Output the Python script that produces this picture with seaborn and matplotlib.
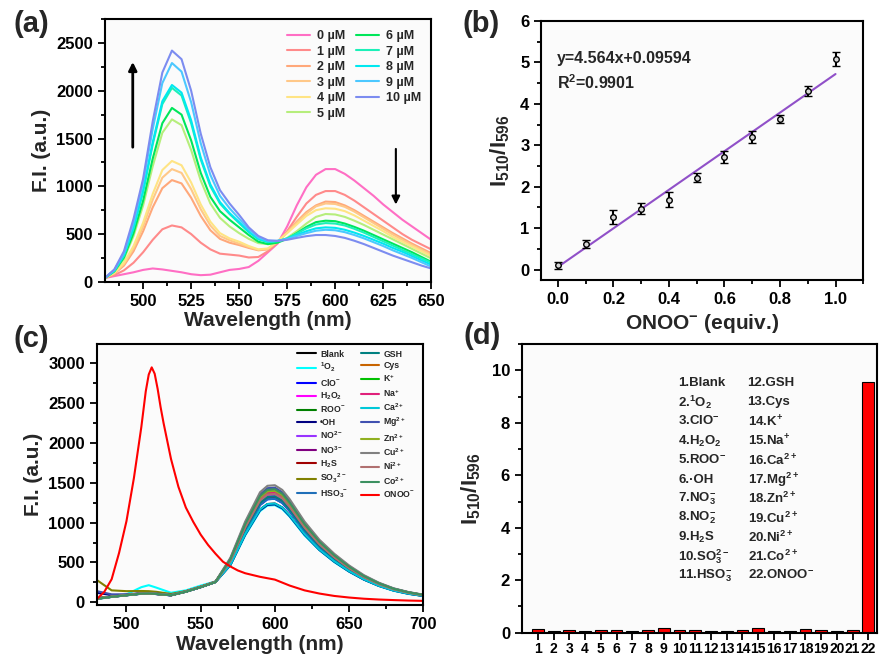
import numpy as np
import pandas as pd
import matplotlib
matplotlib.use("Agg")
import matplotlib.pyplot as plt
import seaborn as sns
from matplotlib.ticker import MultipleLocator

# ---------------- data ----------------
# (a) titration spectra
wl_a = [480, 485, 490, 495, 500, 505, 510, 515, 520, 525, 530, 535, 540, 545, 550, 555, 560, 565,
        570, 575, 580, 585, 590, 595, 600, 605, 610, 615, 620, 625, 630, 635, 640, 645, 650]
fi_0uM = [40, 60, 80, 100, 125, 140, 130, 115, 100, 80, 70, 75, 100, 125, 135, 155, 220, 310,
          400, 580, 800, 990, 1120, 1180, 1180, 1130, 1060, 980, 900, 810, 730, 650, 580, 510, 440]
fi_1uM = [40, 70, 120, 200, 310, 440, 550, 590, 570, 500, 410, 340, 295, 285, 275, 255, 260, 320,
          410, 530, 680, 820, 910, 950, 950, 910, 850, 780, 710, 640, 570, 500, 440, 390, 340]
fi_2uM = [40, 85, 170, 320, 530, 780, 980, 1065, 1030, 880, 690, 540, 450, 410, 385, 355, 330, 340,
          420, 520, 630, 730, 800, 840, 835, 800, 750, 690, 630, 570, 510, 455, 400, 350, 300]
fi_3uM = [40, 90, 185, 350, 580, 860, 1090, 1180, 1140, 970, 760, 590, 480, 435, 400, 365, 335, 345,
          420, 515, 620, 715, 790, 820, 815, 785, 735, 675, 615, 555, 495, 440, 385, 335, 285]
fi_4uM = [40, 95, 200, 375, 620, 920, 1170, 1265, 1220, 1040, 810, 630, 510, 455, 420, 375, 340, 350,
          425, 510, 600, 690, 750, 770, 765, 740, 695, 640, 585, 530, 470, 420, 370, 320, 270]
fi_5uM = [40, 105, 240, 480, 800, 1210, 1560, 1700, 1640, 1380, 1060, 820, 670, 580, 510, 450, 405, 395,
          415, 460, 530, 610, 680, 710, 705, 680, 640, 595, 545, 495, 445, 395, 345, 295, 245]
fi_6uM = [40, 110, 255, 510, 850, 1290, 1660, 1820, 1750, 1480, 1140, 890, 740, 650, 570, 490, 420, 395,
          410, 450, 510, 575, 625, 640, 635, 610, 575, 535, 490, 445, 400, 355, 310, 260, 210]
fi_7uM = [40, 115, 275, 560, 940, 1440, 1860, 2030, 1950, 1660, 1280, 1000, 820, 710, 615, 520, 445, 415,
          425, 455, 505, 560, 600, 615, 610, 590, 555, 515, 470, 425, 380, 335, 290, 245, 200]
fi_8uM = [40, 118, 280, 570, 960, 1460, 1890, 2060, 1980, 1690, 1300, 1020, 835, 720, 625, 525, 450, 420,
          428, 450, 490, 530, 560, 570, 565, 545, 515, 480, 440, 400, 355, 315, 270, 225, 180]
fi_9uM = [40, 125, 300, 620, 1040, 1600, 2080, 2290, 2200, 1880, 1450, 1120, 900, 770, 660, 550, 465, 428,
          430, 448, 480, 510, 535, 545, 540, 520, 490, 455, 415, 375, 330, 290, 250, 205, 160]
fi_10uM = [40, 130, 320, 660, 1080, 1680, 2190, 2420, 2330, 2000, 1550, 1200, 960, 820, 700, 570, 480, 435,
           428, 440, 460, 478, 490, 490, 480, 460, 430, 395, 355, 315, 275, 240, 205, 170, 140]
conc_labels = ['0 µM', '1 µM', '2 µM', '3 µM', '4 µM', '5 µM',
               '6 µM', '7 µM', '8 µM', '9 µM', '10 µM']
conc_colors = ['#ff6ec4', '#ff8a8a', '#ffa87a', '#ffc888', '#ffe484', '#b6ee7c',
               '#00e65a', '#1cf0b8', '#00e8f0', '#4cc8ff', '#7c8cf0']

# (b) calibration
equiv = [0.0, 0.1, 0.2, 0.3, 0.4, 0.5, 0.6, 0.7, 0.8, 0.9, 1.0]
ratio_b = [0.10, 0.62, 1.27, 1.47, 1.68, 2.22, 2.72, 3.20, 3.63, 4.31, 5.08]
err_b = [0.08, 0.10, 0.16, 0.13, 0.18, 0.10, 0.15, 0.15, 0.10, 0.11, 0.17]

# (c) selectivity spectra
wl_onoo = [480, 485, 490, 495, 500, 505, 510, 513, 515, 517, 519, 521, 523, 525, 530, 535, 540, 545,
           550, 555, 560, 565, 570, 575, 580, 590, 600, 610, 620, 630, 640, 650, 660, 670, 680,
           690, 700]
fi_onoo = [40, 130, 290, 620, 1020, 1560, 2200, 2650, 2860, 2950, 2870, 2680, 2450, 2250, 1800, 1450,
           1190, 1010, 850, 720, 610, 510, 450, 400, 365, 320, 285, 210, 150, 110, 80, 60, 45, 35,
           28, 22, 18]
wl_c = [480, 490, 500, 510, 515, 520, 530, 540, 550, 560, 570, 580, 590, 595, 600, 605, 610,
        620, 630, 640, 650, 660, 670, 680, 690, 700]
fi_blank = [50, 72, 92, 108, 112, 108, 90, 132, 192, 258, 471, 856, 1166, 1234, 1240, 1190, 1091,
            856, 663, 515, 391, 288, 208, 149, 109, 81]
fi_1o2 = [40, 68, 100, 190, 215, 185, 120, 150, 210, 262, 465, 840, 1145, 1215, 1220, 1170, 1075,
          840, 655, 505, 385, 285, 205, 145, 105, 80]
fi_clo = [48, 70, 90, 110, 112, 105, 88, 135, 190, 255, 494, 897, 1222, 1294, 1300, 1248, 1144,
          897, 696, 540, 410, 302, 218, 156, 114, 85]
fi_h2o2 = [45, 68, 88, 108, 110, 104, 88, 138, 195, 258, 524, 952, 1297, 1373, 1380, 1325, 1214,
           952, 738, 573, 435, 320, 232, 166, 121, 90]
fi_roo = [46, 70, 90, 110, 113, 106, 90, 135, 192, 256, 540, 980, 1335, 1413, 1420, 1363, 1250,
          980, 760, 589, 447, 329, 239, 170, 125, 92]
fi_oh = [120, 90, 95, 112, 115, 108, 92, 134, 190, 255, 467, 849, 1156, 1224, 1230, 1181, 1082,
         849, 658, 510, 387, 285, 207, 148, 108, 80]
fi_no2 = [47, 70, 90, 110, 112, 105, 89, 136, 192, 257, 513, 932, 1269, 1343, 1350, 1296, 1188,
          932, 722, 560, 425, 313, 227, 162, 119, 88]
fi_no3 = [46, 69, 89, 109, 111, 104, 88, 134, 190, 255, 502, 911, 1241, 1313, 1320, 1267, 1162,
          911, 706, 548, 416, 306, 222, 158, 116, 86]
fi_h2s = [48, 71, 92, 112, 114, 107, 91, 137, 194, 258, 532, 966, 1316, 1393, 1400, 1344, 1232,
          966, 749, 581, 441, 325, 235, 168, 123, 91]
fi_so3 = [280, 150, 140, 142, 140, 132, 105, 140, 196, 258, 528, 959, 1307, 1383, 1390, 1334, 1223,
          959, 744, 577, 438, 322, 234, 167, 122, 90]
fi_hso3 = [50, 72, 92, 110, 113, 106, 90, 135, 191, 256, 494, 897, 1222, 1294, 1300, 1248, 1144,
           897, 696, 540, 410, 302, 218, 156, 114, 85]
fi_gsh = [45, 68, 88, 107, 110, 104, 88, 133, 190, 254, 505, 918, 1250, 1323, 1330, 1277, 1170,
          918, 712, 552, 419, 309, 223, 160, 117, 86]
fi_cys = [47, 70, 90, 110, 112, 106, 90, 136, 193, 257, 521, 945, 1288, 1363, 1370, 1315, 1206,
          945, 733, 569, 432, 318, 230, 164, 121, 89]
fi_k = [46, 69, 90, 110, 113, 106, 90, 135, 192, 257, 536, 973, 1325, 1403, 1410, 1354, 1241,
        973, 754, 585, 444, 327, 237, 169, 124, 92]
fi_na = [47, 70, 91, 111, 113, 106, 90, 136, 193, 257, 524, 952, 1297, 1373, 1380, 1325, 1214,
         952, 738, 573, 435, 320, 232, 166, 121, 90]
fi_ca = [44, 68, 88, 108, 111, 104, 88, 133, 190, 254, 471, 856, 1166, 1234, 1240, 1190, 1091,
         856, 663, 515, 391, 288, 208, 149, 109, 81]
fi_mg = [140, 100, 100, 115, 117, 110, 92, 136, 192, 257, 547, 994, 1354, 1433, 1440, 1382, 1267,
         994, 770, 598, 454, 334, 242, 173, 127, 94]
fi_zn = [48, 71, 91, 111, 113, 106, 90, 136, 193, 257, 532, 966, 1316, 1393, 1400, 1344, 1232,
         966, 749, 581, 441, 325, 235, 168, 123, 91]
fi_cu = [45, 70, 92, 112, 115, 108, 92, 138, 195, 262, 559, 1014, 1382, 1463, 1470, 1411, 1294,
         1014, 786, 610, 463, 341, 247, 176, 129, 96]
fi_ni = [46, 69, 90, 110, 112, 105, 89, 135, 192, 256, 517, 938, 1278, 1353, 1360, 1306, 1197,
         938, 728, 564, 428, 316, 228, 163, 120, 88]
fi_co = [45, 69, 89, 109, 112, 105, 89, 134, 191, 255, 540, 980, 1335, 1413, 1420, 1363, 1250,
         980, 760, 589, 447, 329, 239, 170, 125, 92]
species_c = ['Blank', '${}^{1}$O$_{2}$', 'ClO$^{-}$', 'H$_{2}$O$_{2}$', 'ROO$^{-}$', '•OH',
             'NO$^{2-}$', 'NO$^{3-}$', 'H$_{2}$S', 'SO$_{3}$$^{2-}$', 'HSO$_{3}$$^{-}$',
             'GSH', 'Cys', 'K$^{+}$', 'Na$^{+}$', 'Ca$^{2+}$', 'Mg$^{2+}$', 'Zn$^{2+}$',
             'Cu$^{2+}$', 'Ni$^{2+}$', 'Co$^{2+}$', 'ONOO$^{-}$']
colors_c = ['#000000', '#00ffff', '#0000ff', '#ff00ff', '#008000', '#000080', '#9933ff',
            '#800080', '#a00000', '#808000', '#1f6fb8', '#008080', '#c86400', '#00c000',
            '#e0207a', '#00c8d8', '#4050b0', '#90b020', '#808080', '#b07070', '#3c9060', '#ff0000']

# (d) ratio bars
bar_idx = [str(i) for i in range(1, 23)]
ratio_d = [0.13, 0.08, 0.09, 0.08, 0.09, 0.10, 0.08, 0.10, 0.19, 0.09, 0.09,
           0.06, 0.08, 0.09, 0.18, 0.06, 0.06, 0.13, 0.09, 0.05, 0.09, 9.57]
names_left = ['1.Blank', '2.${}^{1}$O$_{2}$', '3.ClO$^{-}$', '4.H$_{2}$O$_{2}$', '5.ROO$^{-}$',
              '6.·OH', '7.NO$_{3}^{-}$', '8.NO$_{2}^{-}$', '9.H$_{2}$S', '10.SO$_{3}^{2-}$',
              '11.HSO$_{3}^{-}$']
names_right = ['12.GSH', '13.Cys', '14.K$^{+}$', '15.Na$^{+}$', '16.Ca$^{2+}$', '17.Mg$^{2+}$',
               '18.Zn$^{2+}$', '19.Cu$^{2+}$', '20.Ni$^{2+}$', '21.Co$^{2+}$', '22.ONOO$^{-}$']

# ---------------- style ----------------
sns.set_theme(style="ticks")
plt.rcParams['font.family'] = ['Liberation Sans', 'DejaVu Sans']
plt.rcParams['font.weight'] = 'bold'
plt.rcParams['axes.labelweight'] = 'bold'
plt.rcParams['mathtext.fontset'] = 'custom'
plt.rcParams['mathtext.rm'] = 'Liberation Sans:bold'
plt.rcParams['mathtext.bf'] = 'Liberation Sans:bold'
plt.rcParams['mathtext.default'] = 'bf'
plt.rcParams['lines.solid_joinstyle'] = 'round'


def style_ax(ax, size=12):
    ax.set_facecolor('#fbfbfb')
    for s in ax.spines.values():
        s.set_visible(True)
        s.set_linewidth(1.5)
        s.set_color('black')
    ax.tick_params(which='both', direction='out', width=1.3, colors='black', labelsize=size)
    ax.tick_params(which='major', length=5)
    ax.tick_params(which='minor', length=3)


fig = plt.figure(figsize=(8.8, 6.57), dpi=100)
ax_a = fig.add_axes([0.119, 0.571, 0.371, 0.400])
ax_b = fig.add_axes([0.615, 0.574, 0.366, 0.394])
ax_c = fig.add_axes([0.110, 0.079, 0.371, 0.397])
ax_d = fig.add_axes([0.593, 0.037, 0.404, 0.439])

# (a)
curves_a = [fi_0uM, fi_1uM, fi_2uM, fi_3uM, fi_4uM, fi_5uM, fi_6uM, fi_7uM, fi_8uM, fi_9uM, fi_10uM]
df_a = pd.DataFrame({'wl': wl_a * len(curves_a),
                     'fi': sum(curves_a, []),
                     'conc': np.repeat(conc_labels, len(wl_a))})
sns.lineplot(data=df_a, x='wl', y='fi', hue='conc', hue_order=conc_labels,
             palette=conc_colors, lw=1.5, errorbar=None, legend=False, ax=ax_a)
ax_a.legend(ax_a.lines, conc_labels, ncol=2, frameon=False, loc='upper right',
            bbox_to_anchor=(1.005, 1.0), fontsize=9, handlelength=1.85,
            labelspacing=0.28, columnspacing=0.8, handletextpad=0.6)
ax_a.annotate('', xy=(494.6, 2330), xytext=(494.6, 1380),
              arrowprops=dict(arrowstyle='-|>', color='black', lw=2, mutation_scale=12))
ax_a.annotate('', xy=(631.6, 780), xytext=(631.6, 1420),
              arrowprops=dict(arrowstyle='-|>', color='black', lw=1.5, mutation_scale=12))
ax_a.set_xlim(480, 650)
ax_a.set_ylim(0, 2750)
ax_a.xaxis.set_major_locator(MultipleLocator(25))
ax_a.xaxis.set_minor_locator(MultipleLocator(12.5))
ax_a.yaxis.set_major_locator(MultipleLocator(500))
ax_a.yaxis.set_minor_locator(MultipleLocator(250))
ax_a.set_xlabel('Wavelength (nm)', fontsize=15, labelpad=2)
ax_a.set_ylabel('F.I. (a.u.)', fontsize=15, labelpad=4)
style_ax(ax_a)

# (b)
sns.regplot(x=equiv, y=ratio_b, ci=None, scatter=False, ax=ax_b,
            line_kws=dict(color='#9050c8', lw=1.5))
ax_b.errorbar(equiv, ratio_b, yerr=err_b, fmt='o', ms=4, mfc='#d8d8d8', mec='black', mew=1,
              ecolor='black', elinewidth=1.5, capsize=3, capthick=1.5, zorder=3)
ax_b.text(0.05, 0.885, 'y=4.564x+0.09594\nR$^{2}$=0.9901', transform=ax_b.transAxes,
          fontsize=11.5, va='top', linespacing=1.45)
ax_b.set_xlim(-0.06, 1.1)
ax_b.set_ylim(-0.25, 6)
ax_b.xaxis.set_major_locator(MultipleLocator(0.2))
ax_b.xaxis.set_minor_locator(MultipleLocator(0.1))
ax_b.yaxis.set_major_locator(MultipleLocator(1))
ax_b.yaxis.set_minor_locator(MultipleLocator(0.5))
ax_b.set_xlabel('ONOO$^{-}$ (equiv.)', fontsize=15, labelpad=4)
ax_b.set_ylabel('I$_{510}$/I$_{596}$', fontsize=16, labelpad=6)
style_ax(ax_b)

# (c)
curves_c = [fi_blank, fi_1o2, fi_clo, fi_h2o2, fi_roo, fi_oh, fi_no2, fi_no3, fi_h2s, fi_so3,
            fi_hso3, fi_gsh, fi_cys, fi_k, fi_na, fi_ca, fi_mg, fi_zn, fi_cu, fi_ni, fi_co]
rows = []
for name, vals in zip(species_c[:-1], curves_c):
    rows.append(pd.DataFrame({'wl': wl_c, 'fi': vals, 'sp': name}))
rows.append(pd.DataFrame({'wl': wl_onoo, 'fi': fi_onoo, 'sp': species_c[-1]}))
df_c = pd.concat(rows, ignore_index=True)
sns.lineplot(data=df_c, x='wl', y='fi', hue='sp', hue_order=species_c, palette=colors_c,
             lw=1.5, errorbar=None, legend=False, ax=ax_c)
ax_c.legend(ax_c.lines, species_c, ncol=2, frameon=False, loc='upper right',
            bbox_to_anchor=(1.0, 1.01), fontsize=6.3, handlelength=2.1,
            labelspacing=0.3, columnspacing=1.4, handletextpad=0.5)
ax_c.set_xlim(480, 700)
ax_c.set_ylim(-35, 3240)
ax_c.xaxis.set_major_locator(MultipleLocator(50))
ax_c.xaxis.set_minor_locator(MultipleLocator(25))
ax_c.yaxis.set_major_locator(MultipleLocator(500))
ax_c.yaxis.set_minor_locator(MultipleLocator(250))
ax_c.set_xlabel('Wavelength (nm)', fontsize=15, labelpad=2)
ax_c.set_ylabel('F.I. (a.u.)', fontsize=15, labelpad=4)
style_ax(ax_c)

# (d)
sns.barplot(x=bar_idx, y=ratio_d, color='#ff0000', saturation=1, width=0.75,
            edgecolor='black', linewidth=0.8, ax=ax_d)
for i in range(len(names_left)):
    ax_d.text(0.44, 0.865 - i * 0.0668, names_left[i], transform=ax_d.transAxes,
              fontsize=9.5, va='center', ha='left')
    ax_d.text(0.635, 0.865 - i * 0.0668, names_right[i], transform=ax_d.transAxes,
              fontsize=9.5, va='center', ha='left')
ax_d.set_xlim(-1.02, 21.57)
ax_d.set_ylim(0, 11)
ax_d.yaxis.set_major_locator(MultipleLocator(2))
ax_d.yaxis.set_minor_locator(MultipleLocator(1))
ax_d.set_ylabel('I$_{510}$/I$_{596}$', fontsize=16, labelpad=6)
ax_d.set_xlabel('')
style_ax(ax_d)
ax_d.tick_params(axis='x', labelsize=10, pad=2)

# panel letters
for lab, x, y in [('(a)', 0.015, 0.985), ('(b)', 0.525, 0.985),
                  ('(c)', 0.015, 0.505), ('(d)', 0.527, 0.51)]:
    fig.text(x, y, lab, fontsize=21, va='top', ha='left')

fig.savefig('out.png', dpi=100)
